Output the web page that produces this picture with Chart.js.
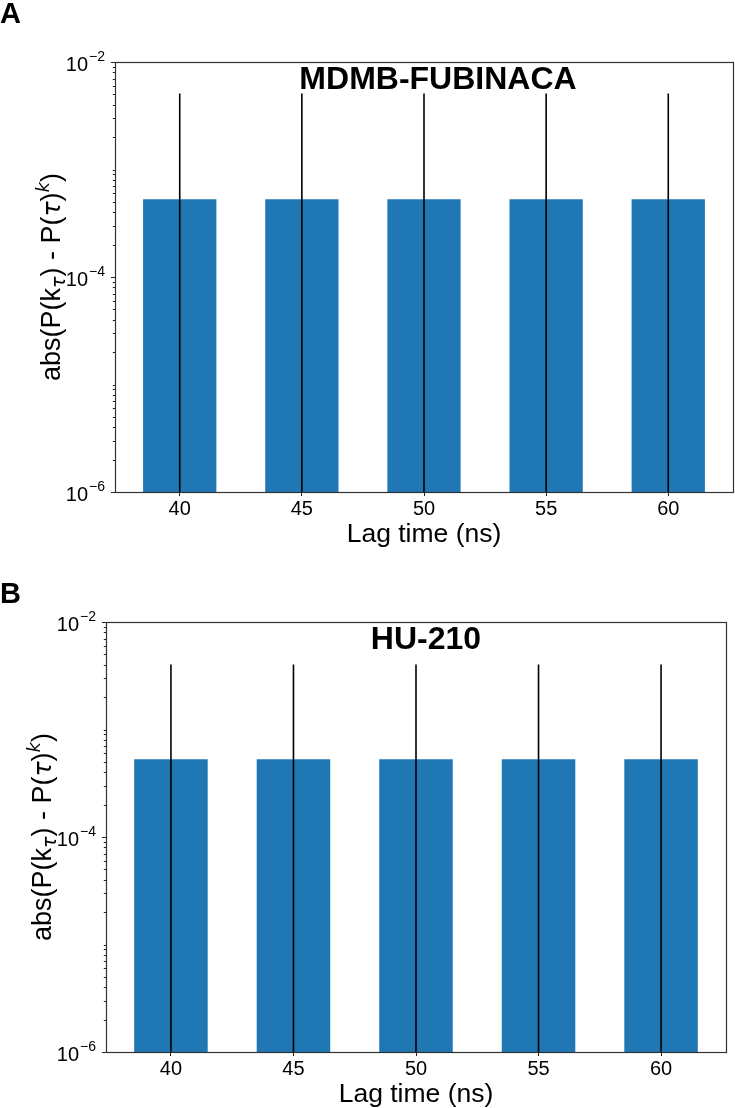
<!DOCTYPE html>
<html>
<head>
<meta charset="utf-8">
<script src="https://cdn.jsdelivr.net/npm/chart.js@4"></script>
<style>
  html, body { margin: 0; padding: 0; background: #fff; }
  body { width: 735px; height: 1108px; position: relative; overflow: hidden; }
  canvas { position: absolute; left: 0; }
</style>
</head>
<body>
<canvas id="graficoA" width="735" height="570" style="top:0"></canvas>
<canvas id="graficoB" width="735" height="538" style="top:570px"></canvas>
<script>
// dados
const lagTimes = [40, 45, 50, 55, 60];
const valoresA = [5.3e-4, 5.3e-4, 5.3e-4, 5.3e-4, 5.3e-4];
const errosA = [4.55e-3, 4.55e-3, 4.55e-3, 4.55e-3, 4.55e-3];
const valoresB = [5.3e-4, 5.3e-4, 5.3e-4, 5.3e-4, 5.3e-4];
const errosB = [3.5e-3, 3.5e-3, 3.5e-3, 3.5e-3, 3.5e-3];
const yMajor = [1e-6, 1e-4, 1e-2];
const yDecadas = [1e-6, 1e-5, 1e-4, 1e-3];
const ySubs = [1, 2, 3, 4, 5, 6, 7, 8, 9];
const yMajorLabels = ['\u22126', '\u22124', '\u22122'];

const FONTE = '"Liberation Sans", Arial, sans-serif';
const AZUL = '#1f77b4';

function desenharEixoY(ctx, chart) {
    const y = chart.scales.y;
    const area = chart.chartArea;
    ctx.save();
    ctx.strokeStyle = '#222';
    ctx.lineWidth = 1;
    yDecadas.forEach(d => {
        ySubs.forEach(s => {
            const v = d * s;
            if (yMajor.some(m => Math.abs(m - v) / m < 1e-6)) return;
            const py = Math.round(y.getPixelForValue(v)) + 0.5;
            ctx.beginPath();
            ctx.moveTo(area.left, py);
            ctx.lineTo(area.left - 2.2, py);
            ctx.stroke();
        });
    });
    yMajor.forEach((v, i) => {
        const py = Math.round(y.getPixelForValue(v)) + 0.5;
        ctx.beginPath();
        ctx.moveTo(area.left, py);
        ctx.lineTo(area.left - 4, py);
        ctx.stroke();
        // rótulo 10^k
        ctx.fillStyle = '#000';
        ctx.textBaseline = 'alphabetic';
        ctx.textAlign = 'left';
        ctx.font = '14px ' + FONTE;
        const sup = yMajorLabels[i];
        const wSup = ctx.measureText(sup).width;
        ctx.font = '20px ' + FONTE;
        const wBase = ctx.measureText('10').width;
        const x0 = area.left - 10 - wSup - wBase - 1;
        ctx.fillText('10', x0, py + 8);
        ctx.font = '14px ' + FONTE;
        ctx.fillText(sup, x0 + wBase + 1, py - 2);
    });
    ctx.restore();
}

function desenharRotuloY(ctx, chart, xBase) {
    const area = chart.chartArea;
    const cy = (area.top + area.bottom) / 2;
    const partes = [
        { t: 'abs(P(k', f: '27px ' + FONTE, dy: 0 },
        { t: '\u03c4', f: 'italic 19px "DejaVu Sans"', dy: 5 },
        { t: ') - P(', f: '27px ' + FONTE, dy: 0 },
        { t: '\u03c4', f: 'italic 25px "DejaVu Sans"', dy: 0 },
        { t: ')', f: '27px ' + FONTE, dy: 0 },
        { t: 'k', f: 'italic 18px "DejaVu Sans"', dy: -11 },
        { t: ')', f: '27px ' + FONTE, dy: 0 }
    ];
    ctx.save();
    let total = 0;
    partes.forEach(p => { ctx.font = p.f; p.w = ctx.measureText(p.t).width; total += p.w; });
    ctx.translate(xBase, cy);
    ctx.rotate(-Math.PI / 2);
    ctx.fillStyle = '#000';
    ctx.textBaseline = 'alphabetic';
    ctx.textAlign = 'left';
    let x = -total / 2;
    partes.forEach(p => {
        ctx.font = p.f;
        ctx.fillText(p.t, x, p.dy);
        x += p.w;
    });
    ctx.restore();
}

function criarPainel(id, letra, letraY, titulo, tituloDx, valores, erros, area) {
    const canvas = document.getElementById(id);
    const H = canvas.height;

    const pluginPainel = {
        id: 'painel' + letra,
        afterDatasetsDraw(chart) {
            const ctx = chart.ctx;
            const ca = chart.chartArea;
            const xs = chart.scales.x;
            const ys = chart.scales.y;
            // barras de erro
            ctx.save();
            ctx.beginPath();
            ctx.rect(ca.left, ca.top, ca.right - ca.left, ca.bottom - ca.top);
            ctx.clip();
            ctx.strokeStyle = '#000';
            ctx.lineWidth = 1.6;
            lagTimes.forEach((t, i) => {
                const px = xs.getPixelForValue(t);
                const topo = ys.getPixelForValue(valores[i] + erros[i]);
                const baixo = valores[i] - erros[i] > 0 ? ys.getPixelForValue(valores[i] - erros[i]) : ca.bottom + 2;
                ctx.beginPath();
                ctx.moveTo(px, topo);
                ctx.lineTo(px, baixo);
                ctx.stroke();
            });
            ctx.restore();
        },
        afterDraw(chart) {
            const ctx = chart.ctx;
            const ca = chart.chartArea;
            ctx.save();
            // moldura
            ctx.strokeStyle = '#333';
            ctx.lineWidth = 1.2;
            ctx.strokeRect(Math.round(ca.left) + 0.5, Math.round(ca.top) + 0.5,
                Math.round(ca.right - ca.left), Math.round(ca.bottom - ca.top));
            // título dentro do gráfico
            ctx.fillStyle = '#000';
            ctx.font = 'bold 32px ' + FONTE;
            ctx.textAlign = 'center';
            ctx.textBaseline = 'alphabetic';
            ctx.fillText(titulo, (ca.left + ca.right) / 2 + tituloDx, ca.top + 27);
            // letra do painel
            ctx.font = 'bold 29px ' + FONTE;
            ctx.textAlign = 'left';
            ctx.fillText(letra, 0, letraY);
            // título do eixo x
            ctx.font = '26.5px ' + FONTE;
            ctx.textAlign = 'center';
            ctx.fillText('Lag time (ns)', (ca.left + ca.right) / 2, ca.bottom + 50);
            ctx.restore();
            desenharEixoY(ctx, chart);
            desenharRotuloY(ctx, chart, ca.left - 55);
        }
    };

    return new Chart(canvas.getContext('2d'), {
        type: 'bar',
        data: {
            datasets: [{
                data: lagTimes.map((t, i) => ({ x: t, y: valores[i] })),
                backgroundColor: AZUL,
                borderWidth: 0,
                barPercentage: 0.6,
                categoryPercentage: 1.0
            }]
        },
        options: {
            responsive: false,
            animation: false,
            devicePixelRatio: 1,
            layout: { padding: { top: area.top, right: 735 - area.right, left: 0, bottom: 0 } },
            plugins: { legend: { display: false }, tooltip: { enabled: false } },
            scales: {
                x: {
                    type: 'linear',
                    offset: false,
                    min: 37.35,
                    max: 62.65,
                    afterBuildTicks(scale) {
                        scale.ticks = lagTimes.map(v => ({ value: v }));
                    },
                    afterFit(scale) { scale.height = H - area.bottom; },
                    grid: { drawOnChartArea: false, drawTicks: true, tickLength: 4, color: '#222', offset: false },
                    border: { display: false },
                    ticks: {
                        font: { family: FONTE, size: 20 },
                        color: '#000',
                        padding: 1,
                        maxRotation: 0,
                        autoSkip: false
                    }
                },
                y: {
                    type: 'logarithmic',
                    min: 1e-6,
                    max: 1e-2,
                    afterFit(scale) { scale.width = area.left; },
                    grid: { display: false },
                    border: { display: false },
                    ticks: { display: false }
                }
            }
        },
        plugins: [pluginPainel]
    });
}

criarPainel('graficoA', 'A', 23, 'MDMB-FUBINACA', 14, valoresA, errosA,
    { top: 62, bottom: 492, left: 115, right: 733 });
criarPainel('graficoB', 'B', 33, 'HU-210', 10, valoresB, errosB,
    { top: 52, bottom: 482, left: 106, right: 726 });
</script>
</body>
</html>
